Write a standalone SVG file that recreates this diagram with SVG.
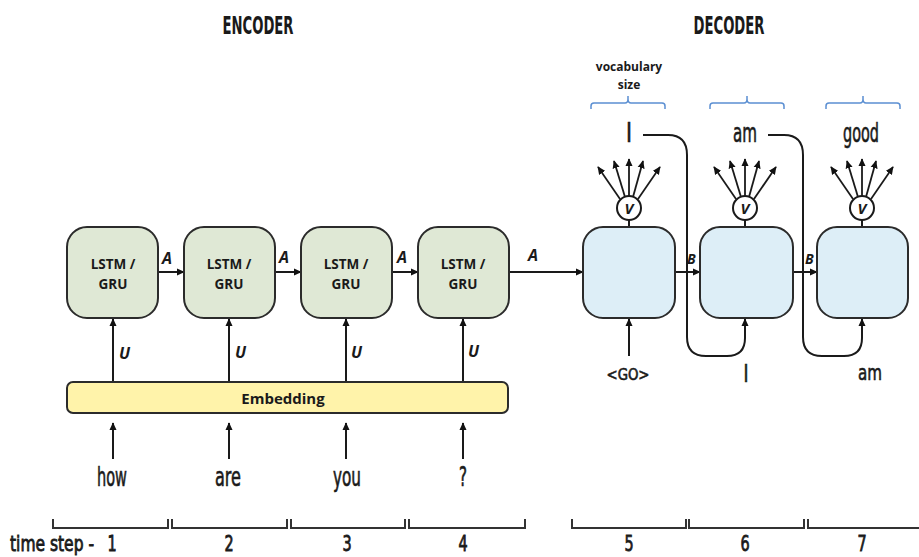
<svg xmlns="http://www.w3.org/2000/svg" width="919" height="557" viewBox="0 0 919 557">
<defs>
<marker id="ahs" markerUnits="userSpaceOnUse" markerWidth="8" markerHeight="8" viewBox="0 0 10 10" refX="9" refY="5" orient="auto">
<path d="M0,0.5 L10,5 L0,9.5 z" fill="#111"/>
</marker>
</defs>
<style>
.enc{fill:#dfe8d5;stroke:#2b2b2b;stroke-width:2}
.dec{fill:#ddeef7;stroke:#2b2b2b;stroke-width:2}
.emb{fill:#fff3aa;stroke:#2b2b2b;stroke-width:2}
.ln{fill:none;stroke:#1a1a1a;stroke-width:2}
.fan{fill:none;stroke:#1a1a1a;stroke-width:1.8}
.brace{fill:none;stroke:#5b8fd2;stroke-width:1.5}
.cell{font-family:"Open Sans","DejaVu Sans",sans-serif;font-weight:bold;font-size:13.5px;fill:#1a1a1a;text-anchor:middle}
.lab{font-family:"Open Sans","DejaVu Sans",sans-serif;font-weight:bold;font-style:italic;font-size:16px;fill:#1a1a1a}
.cond{font-family:"DejaVu Sans Condensed","DejaVu Sans",sans-serif;font-weight:normal;fill:#1a1a1a;stroke:#1a1a1a;stroke-width:0.6;text-anchor:middle}
.title{font-family:"DejaVu Sans Condensed","DejaVu Sans",sans-serif;font-weight:bold;font-size:25px;fill:#1a1a1a;text-anchor:middle}
.vs{font-family:"Open Sans","DejaVu Sans",sans-serif;font-weight:bold;font-size:12px;fill:#1a1a1a;text-anchor:middle}
.vt{font-family:"Open Sans","DejaVu Sans",sans-serif;font-weight:bold;font-style:italic;font-size:15px;fill:#1a1a1a;text-anchor:middle}
.tick{fill:none;stroke:#333;stroke-width:2}
</style>

<text class="title" x="258" y="34" textLength="71" lengthAdjust="spacingAndGlyphs">ENCODER</text>
<text class="title" x="729" y="34" textLength="71" lengthAdjust="spacingAndGlyphs">DECODER</text>

<g id="connectors">
<line class="ln" x1="158" y1="272" x2="184" y2="272" marker-end="url(#ahs)"/>
<line class="ln" x1="275" y1="272" x2="301" y2="272" marker-end="url(#ahs)"/>
<line class="ln" x1="392" y1="272" x2="418" y2="272" marker-end="url(#ahs)"/>
<line class="ln" x1="509" y1="272" x2="583" y2="272" marker-end="url(#ahs)"/>
<line class="ln" x1="675" y1="272" x2="700" y2="272" marker-end="url(#ahs)"/>
<line class="ln" x1="793" y1="272" x2="817" y2="272" marker-end="url(#ahs)"/>
<line class="ln" x1="113" y1="382" x2="113" y2="319" marker-end="url(#ahs)"/>
<line class="ln" x1="229" y1="382" x2="229" y2="319" marker-end="url(#ahs)"/>
<line class="ln" x1="346" y1="382" x2="346" y2="319" marker-end="url(#ahs)"/>
<line class="ln" x1="463" y1="382" x2="463" y2="319" marker-end="url(#ahs)"/>
<line class="ln" x1="113" y1="459" x2="113" y2="423" marker-end="url(#ahs)"/>
<line class="ln" x1="229" y1="459" x2="229" y2="423" marker-end="url(#ahs)"/>
<line class="ln" x1="346" y1="459" x2="346" y2="423" marker-end="url(#ahs)"/>
<line class="ln" x1="463" y1="459" x2="463" y2="423" marker-end="url(#ahs)"/>
<line class="ln" x1="629" y1="356" x2="629" y2="319" marker-end="url(#ahs)"/>
<path class="ln" d="M643,135 H668 Q687,135 687,155 V337 Q687,356 706,356 H727 Q745,356 745,338 V319" marker-end="url(#ahs)"/>
<path class="ln" d="M768,135 H784 Q803,135 803,155 V337 Q803,356 822,356 H844 Q862,356 862,338 V319" marker-end="url(#ahs)"/>
<line class="ln" x1="629" y1="220" x2="629" y2="227"/>
<line class="ln" x1="745" y1="220" x2="745" y2="227"/>
<line class="ln" x1="862" y1="220" x2="862" y2="227"/>
</g>

<g id="enc1"><rect class="enc" x="67" y="227" width="91" height="91" rx="20"/><text class="cell" x="113" y="269">LSTM /</text><text class="cell" x="113" y="289">GRU</text></g>
<g id="enc2"><rect class="enc" x="184" y="227" width="91" height="91" rx="20"/><text class="cell" x="229" y="269">LSTM /</text><text class="cell" x="229" y="289">GRU</text></g>
<g id="enc3"><rect class="enc" x="301" y="227" width="91" height="91" rx="20"/><text class="cell" x="346" y="269">LSTM /</text><text class="cell" x="346" y="289">GRU</text></g>
<g id="enc4"><rect class="enc" x="418" y="227" width="91" height="91" rx="20"/><text class="cell" x="463" y="269">LSTM /</text><text class="cell" x="463" y="289">GRU</text></g>

<g id="dec5"><rect class="dec" x="583" y="227" width="92" height="91" rx="20"/></g>
<g id="dec6"><rect class="dec" x="700" y="227" width="93" height="91" rx="20"/></g>
<g id="dec7"><rect class="dec" x="817" y="227" width="91" height="91" rx="20"/></g>

<g id="embedding"><rect class="emb" x="67" y="382" width="441" height="31" rx="6"/><text class="cell" x="283" y="404" style="font-size:15px">Embedding</text></g>

<g id="labels">
<text class="lab" x="162" y="264">A</text>
<text class="lab" x="279" y="263">A</text>
<text class="lab" x="397" y="263">A</text>
<text class="lab" x="528" y="261">A</text>
<text class="lab" x="687" y="264" style="font-size:14px">B</text>
<text class="lab" x="805" y="264" style="font-size:14px">B</text>
<text class="lab" x="119" y="359">U</text>
<text class="lab" x="235" y="358">U</text>
<text class="lab" x="351" y="358">U</text>
<text class="lab" x="468" y="357">U</text>
</g>

<g id="v5">
<circle cx="629" cy="208" r="12" fill="#fff" stroke="#1a1a1a" stroke-width="2"/>
<text class="vt" x="629" y="214">V</text>
<line class="fan" x1="620" y1="199" x2="598" y2="167" marker-end="url(#ahs)"/>
<line class="fan" x1="625" y1="197" x2="614" y2="161" marker-end="url(#ahs)"/>
<line class="fan" x1="629" y1="196" x2="629" y2="159" marker-end="url(#ahs)"/>
<line class="fan" x1="633" y1="197" x2="643" y2="161" marker-end="url(#ahs)"/>
<line class="fan" x1="638" y1="199" x2="660" y2="167" marker-end="url(#ahs)"/>
</g>
<g id="v6">
<circle cx="745" cy="208" r="12" fill="#fff" stroke="#1a1a1a" stroke-width="2"/>
<text class="vt" x="745" y="214">V</text>
<line class="fan" x1="736" y1="199" x2="714" y2="167" marker-end="url(#ahs)"/>
<line class="fan" x1="741" y1="197" x2="730" y2="161" marker-end="url(#ahs)"/>
<line class="fan" x1="745" y1="196" x2="745" y2="159" marker-end="url(#ahs)"/>
<line class="fan" x1="749" y1="197" x2="759" y2="161" marker-end="url(#ahs)"/>
<line class="fan" x1="754" y1="199" x2="776" y2="167" marker-end="url(#ahs)"/>
</g>
<g id="v7">
<circle cx="862" cy="208" r="12" fill="#fff" stroke="#1a1a1a" stroke-width="2"/>
<text class="vt" x="862" y="214">V</text>
<line class="fan" x1="853" y1="199" x2="831" y2="167" marker-end="url(#ahs)"/>
<line class="fan" x1="858" y1="197" x2="847" y2="161" marker-end="url(#ahs)"/>
<line class="fan" x1="862" y1="196" x2="862" y2="159" marker-end="url(#ahs)"/>
<line class="fan" x1="866" y1="197" x2="876" y2="161" marker-end="url(#ahs)"/>
<line class="fan" x1="871" y1="199" x2="893" y2="167" marker-end="url(#ahs)"/>
</g>

<g id="vocab">
<text class="vs" x="629" y="71">vocabulary</text>
<text class="vs" x="629" y="89">size</text>
<path class="brace" d="M591,109 V106 Q591,103 594,103 H625 Q628,103 628,99 V96 M628,99 Q628,103 631,103 H662 Q665,103 665,106 V109"/>
<path class="brace" d="M710,109 V106 Q710,103 713,103 H744 Q747,103 747,99 V96 M747,99 Q747,103 750,103 H781 Q784,103 784,106 V109"/>
<path class="brace" d="M826,109 V106 Q826,103 829,103 H860 Q863,103 863,99 V96 M863,99 Q863,103 866,103 H897 Q900,103 900,106 V109"/>
</g>

<g id="outputs">
<text class="cond" x="629" y="142" font-size="26" textLength="6" lengthAdjust="spacingAndGlyphs">I</text>
<text class="cond" x="745" y="142" font-size="26" textLength="24" lengthAdjust="spacingAndGlyphs">am</text>
<text class="cond" x="861" y="142" font-size="26" textLength="36" lengthAdjust="spacingAndGlyphs">good</text>
</g>

<g id="decin">
<text class="cond" x="628" y="380" font-size="16" textLength="43" lengthAdjust="spacingAndGlyphs">&lt;GO&gt;</text>
<text class="cond" x="746" y="382" font-size="24" textLength="5" lengthAdjust="spacingAndGlyphs">I</text>
<text class="cond" x="870" y="380" font-size="22" textLength="24" lengthAdjust="spacingAndGlyphs">am</text>
</g>

<g id="inputs">
<text class="cond" x="112" y="486" font-size="26" textLength="30" lengthAdjust="spacingAndGlyphs">how</text>
<text class="cond" x="228" y="486" font-size="26" textLength="26" lengthAdjust="spacingAndGlyphs">are</text>
<text class="cond" x="347" y="486" font-size="26" textLength="28" lengthAdjust="spacingAndGlyphs">you</text>
<text class="cond" x="463" y="486" font-size="26" textLength="8" lengthAdjust="spacingAndGlyphs">?</text>
</g>

<g id="timeline">
<path class="tick" d="M53,519 V528 H168 V519"/>
<path class="tick" d="M172,519 V528 H287 V519"/>
<path class="tick" d="M291,519 V528 H405 V519"/>
<path class="tick" d="M409,519 V528 H525 V519"/>
<path class="tick" d="M572,519 V528 H686 V519"/>
<path class="tick" d="M689,519 V528 H804 V519"/>
<path class="tick" d="M808,519 V528 H919"/>
<text class="cond" transform="translate(52,551) scale(1,1.35)" font-size="16" textLength="84" lengthAdjust="spacingAndGlyphs">time step -</text>
<text class="cond" transform="translate(112,551) scale(1,1.35)" font-size="16">1</text>
<text class="cond" transform="translate(229,551) scale(1,1.35)" font-size="16">2</text>
<text class="cond" transform="translate(347,551) scale(1,1.35)" font-size="16">3</text>
<text class="cond" transform="translate(463,551) scale(1,1.35)" font-size="16">4</text>
<text class="cond" transform="translate(629,551) scale(1,1.35)" font-size="16">5</text>
<text class="cond" transform="translate(745,551) scale(1,1.35)" font-size="16">6</text>
<text class="cond" transform="translate(862,551) scale(1,1.35)" font-size="16">7</text>
</g>
</svg>
